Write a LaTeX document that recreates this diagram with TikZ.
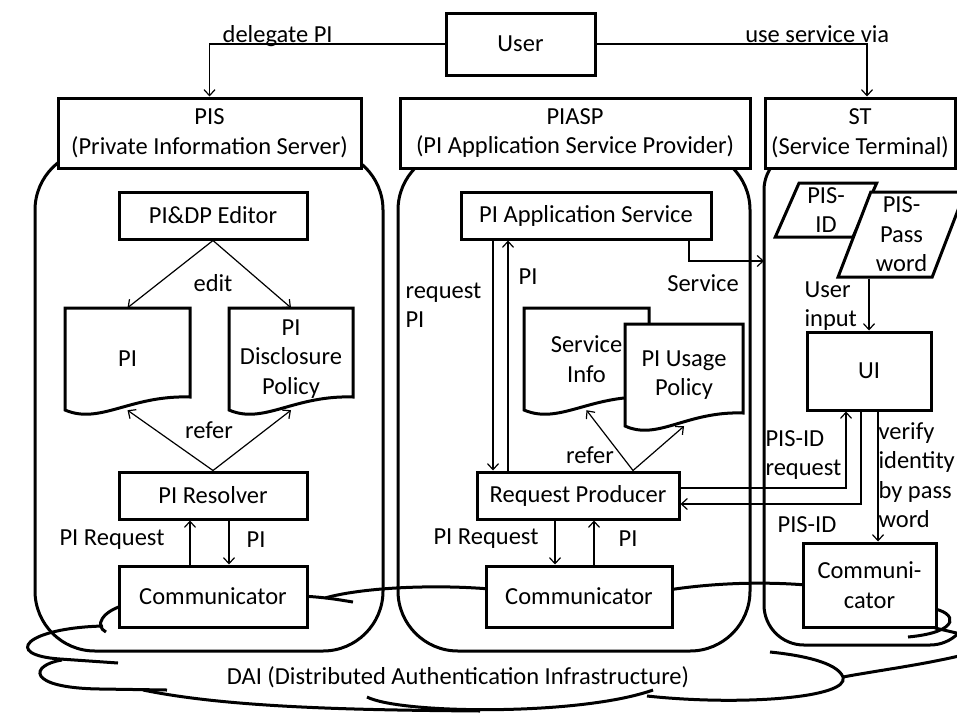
\documentclass[tikz,border=0pt]{standalone}
\usepackage{fontspec}
\setmainfont{Carlito}
\usetikzlibrary{arrows.meta,shapes.geometric}
\tikzset{%
  box/.style      = {shape=rectangle, draw, line width=3pt, fill=white,%
                     align=center, inner sep=2pt},%
  head/.style     = {box, minimum height=70pt},%
  panel/.style    = {shape=rectangle, draw, line width=3pt, rounded corners=60pt},%
  doc/.style      = {shape=rectangle, align=center, minimum height=102pt, inner sep=0pt},%
  slant/.style    = {shape=trapezium, trapezium left angle=70, trapezium right angle=110,%
                     trapezium stretches=true, draw, line width=3pt, fill=white,%
                     align=center, inner sep=0pt},%
  flow/.style     = {line width=1.2pt, -{Straight Barb[length=6pt,width=11pt]}},%
  cloudline/.style = {line width=3pt}%
}
% document symbol: name, centre x, top y, width, text
\newcommand{\docnode}[5]{%
  \draw[line width=3pt, fill=white] (#2-#4/2,#3) -- (#2+#4/2,#3) -- (#2+#4/2,#3+89)
    .. controls (#2+0.02*#4,#3+87) and (#2-0.22*#4,#3+117) .. (#2-#4/2,#3+102) -- cycle;
  \node[doc, minimum width=#4pt] (#1) at (#2,#3+51) {#5};}

\begin{document}
\begin{tikzpicture}[x=1pt,y=-1pt,every node/.style={font=\fontsize{24.5}{29.5}\selectfont}]
	\useasboundingbox (0,0) rectangle (957,712);
	% the three areas
	\node[panel, minimum width=348pt, minimum height=501pt] (pisarea) at (209,400.5) {};
	\node[panel, minimum width=352pt, minimum height=501pt] (asparea) at (574,400.5) {};
	\node[panel, rounded corners=40pt, minimum width=206pt, minimum height=495pt] (starea) at (867,397.5) {};
	% DAI cloud
	\draw[cloudline] (125,605) .. controls (102,611) and (94,626) .. (106,632);
	\draw[cloudline] (103,626) .. controls (25,628) and (2,655) .. (60,659) -- (118,663);
	\draw[cloudline] (62,660) .. controls (30,665) and (25,688) .. (100,689) -- (167,690);
	\draw[cloudline] (143,690) .. controls (230,708) and (360,710) .. (480,711);
	\draw[cloudline] (367,697) .. controls (400,714) and (580,716) .. (653,690);
	\draw[cloudline] (647,696) .. controls (740,706) and (850,698) .. (843,677)
		.. controls (837,662) and (800,655) .. (770,652);
	\draw[cloudline] (843,677) .. controls (880,670) and (930,664) .. (975,652);
	\draw[cloudline] (930,608) .. controls (958,612) and (962,632) .. (908,637);
	\draw[cloudline] (935,628) .. controls (948,631) .. (965,635);
	\draw[cloudline] (300,596) .. controls (325,597) and (340,600) .. (353,602);
	\draw[cloudline] (325,598) .. controls (360,588) and (430,584) .. (490,589);
	\draw[cloudline] (668,590) .. controls (720,582) and (770,582) .. (806,585);
	\node (dai) at (458,677) {DAI (Distributed Authentication Infrastructure)};
	% headers
	\node[box, minimum width=149pt, minimum height=62pt] (user) at (520.5,44) {User};
	\node[head, minimum width=303pt] (pis) at (209.5,133) {PIS\\(Private Information Server)};
	\node[head, minimum width=350pt] (piasp) at (575,133) {PIASP\\(PI Application Service Provider)};
	\node[head, minimum width=190pt] (st) at (860,133) {ST\\(Service Terminal)};
	\draw[flow] (user.west) -| node[pos=0.355, anchor=base, yshift=2pt, inner sep=0pt] {delegate PI} (pis.north);
	\draw[flow] (user.east) -| node[pos=0.408, anchor=base, yshift=2pt, inner sep=0pt] {use service via} ([xshift=7pt]st.north);
	% PIS
	\node[box, minimum width=188pt, minimum height=47pt] (editor) at (213,215.5) {PI\&DP Editor};
	\docnode{pidoc}{127.5}{308}{125}{PI}
	\docnode{dpdoc}{291}{308}{124}{PI\\Disclosure\\Policy}
	\node[box, minimum width=188pt, minimum height=47pt] (resolver) at (213,495.5) {PI Resolver};
	\node[box, minimum width=188pt, minimum height=61pt] (piscomm) at (213,596.5) {Communicator};
	\draw[flow] (editor.south) -- (pidoc.north);
	\draw[flow] (editor.south) -- (dpdoc.north);
	\draw[flow] (resolver.north) -- (pidoc.south);
	\draw[flow] (resolver.north) -- (dpdoc.south);
	\draw[flow] ([xshift=-23pt]piscomm.north) -- ([xshift=-23pt]resolver.south);
	\draw[flow] ([xshift=16pt]resolver.south) -- ([xshift=16pt]piscomm.north);
	\node (editlbl) at (213,283) {edit};
	\node (referpis) at (209,430) {refer};
	\node (pisreq) at (112,540) {PI Request};
	\node (pispi) at (256,540) {PI};
	% PIASP
	\node[box, minimum width=250pt, minimum height=47pt] (appsvc) at (586,215.5) {PI Application Service};
	\docnode{infodoc}{586.5}{308}{125}{Service\\Info}
	\docnode{usedoc}{684}{324}{118}{PI Usage\\Policy}
	\node[box, minimum width=202pt, minimum height=47pt] (reqprod) at (578,495.5) {Request Producer};
	\node[box, minimum width=186pt, minimum height=61pt] (aspcomm) at (579,596.5) {Communicator};
	\coordinate (svcin) at (764,261);
	\draw[flow] ([xshift=-93pt]appsvc.south) -- ([xshift=-93pt]appsvc.south |- reqprod.north);
	\draw[flow] ([xshift=-78pt]appsvc.south |- reqprod.north) -- ([xshift=-78pt]appsvc.south);
	\draw[flow] ([xshift=103pt]appsvc.south) |- (svcin);
	\draw[flow] ([xshift=55pt]reqprod.north) -- (infodoc.south);
	\draw[flow] ([xshift=55pt]reqprod.north) -- (usedoc.south);
	\draw[flow] ([xshift=-23pt]reqprod.south) -- ([xshift=-23pt]reqprod.south |- aspcomm.north);
	\draw[flow] ([xshift=16pt]reqprod.south |- aspcomm.north) -- ([xshift=16pt]reqprod.south);
	\node[anchor=west, align=left] (reqpilbl) at (402,305) {request\\PI};
	\node (piuplbl) at (528,277) {PI};
	\node (svclbl) at (703,283) {Service};
	\node (referasp) at (590,455) {refer};
	\node (aspreq) at (486,539) {PI Request};
	\node (asppi) at (628,539) {PI};
	% ST
	\node[slant, minimum width=102pt, minimum height=54pt] (pisid) at (826,210) {PIS-\\ID};
	\node[slant, minimum width=127pt, minimum height=85pt] (pispwd) at (901.5,234.5) {PIS-\\Pass\\word};
	\node[box, minimum width=124pt, minimum height=78pt] (ui) at (869,371) {UI};
	\node[box, minimum width=133pt, minimum height=84pt] (stcomm) at (869.5,585) {Communi-\\cator};
	\draw[flow] (ui.north |- pispwd.south) -- (ui.north);
	\draw[flow] ([yshift=7.5pt]reqprod.east) -| ([xshift=-23pt]ui.south);
	\draw[flow] ([xshift=-8pt]ui.south) |- ([yshift=-8.5pt]reqprod.east);
	\draw[flow] ([xshift=9pt]ui.south) -- ([xshift=9pt]ui.south |- stcomm.north);
	\node[anchor=west, align=left] (inputlbl) at (801,306) {User\\input};
	\node[anchor=west, align=left] (idreqlbl) at (762,455) {PIS-ID\\request};
	\node (idlbl) at (807,525) {PIS-ID};
	\node[anchor=west, align=left] (verifylbl) at (875,475) {verify\\identity\\by pass\\word};
\end{tikzpicture}
\end{document}
